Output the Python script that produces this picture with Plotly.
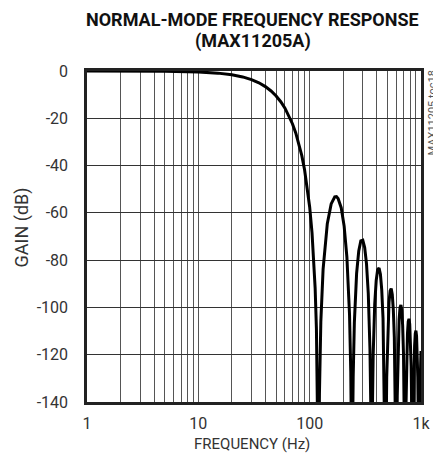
import plotly.graph_objects as go

# Frequency (Hz) and gain (dB)
freq = [1, 2, 5, 10, 15, 20, 25, 30, 35, 40, 45, 50, 55, 60, 65, 70, 75, 80, 85, 90, 95,
        100, 105, 110, 112, 115, 117, 118, 120,
        122.4, 126, 132, 144, 156, 168, 174, 180, 192, 204, 216, 228, 234, 237.6, 240,
        246, 252, 264, 276, 288, 300, 312, 324, 336, 348, 354, 360,
        366, 372, 384, 396, 408, 420, 432, 444, 456, 468, 474, 480,
        492, 504, 516, 528, 540, 552, 564, 576, 588, 600,
        612, 624, 636, 648, 660, 672, 684, 696, 708, 720,
        732, 744, 756, 768, 780, 792, 804, 816, 828, 840,
        852, 864, 876, 888, 900, 912, 924, 936, 948, 960,
        972, 984, 996, 1000]
gain = [0.0, 0.0, -0.1, -0.4, -0.9, -1.6, -2.5, -3.65, -5.0, -6.6, -8.45, -10.6, -13.0, -15.7, -18.8, -22.3, -26.2, -30.7, -35.8, -41.8, -48.9,
        -57.5, -68.5, -83.7, -91.9, -109.0, -127.3, -141.7, -180,
        -136.6, -105.9, -83.9, -64.6, -56.2, -53.2, -53.1, -53.9, -57.8, -65.6, -78.7, -102.9, -127.4, -159.7, -180,
        -129.2, -106.3, -85.6, -76.1, -71.9, -71.6, -74.7, -81.6, -94.0, -117.6, -141.8, -180,
        -143.0, -119.9, -98.6, -88.6, -84.0, -83.3, -86.0, -92.6, -104.6, -127.9, -152.0, -180,
        -129.6, -108.1, -97.8, -93.0, -92.0, -94.5, -100.9, -112.7, -135.8, -180,
        -137.2, -115.5, -105.1, -100.1, -99.0, -101.4, -107.6, -119.3, -142.2, -180,
        -143.4, -121.6, -111.1, -106.0, -104.8, -107.1, -113.2, -124.8, -147.7, -180,
        -148.7, -126.8, -116.2, -111.1, -109.8, -112.0, -118.1, -129.6, -152.4, -180,
        -153.2, -131.3, -120.7, -118.4]

x_tick_vals = [1, 2, 3, 4, 5, 6, 7, 8, 9, 10, 20, 30, 40, 50, 60, 70, 80, 90,
               100, 200, 300, 400, 500, 600, 700, 800, 900, 1000]
x_tick_text = ["1", "", "", "", "", "", "", "", "", "10", "", "", "", "", "", "", "", "",
               "100", "", "", "", "", "", "", "", "", "1k"]
y_tick_vals = [0, -20, -40, -60, -80, -100, -120, -140]
y_tick_text = ["0", "-20", "-40", "-60", "-80", "-100", "-120", "-140"]

FONT = "Roboto, Liberation Sans, Arial, sans-serif"

fig = go.Figure()
fig.add_trace(go.Scatter(x=freq, y=gain, mode="lines",
                         line=dict(color="#000000", width=3), showlegend=False,
                         hoverinfo="skip"))

# page body has an 8px margin, so the figure is 8px smaller and shifted
fig.update_layout(
    width=433, height=454,
    margin=dict(l=79, r=20, t=63, b=60),
    paper_bgcolor="white", plot_bgcolor="white",
    font=dict(family=FONT, size=16, color="#222222"),
    xaxis=dict(type="log", range=[0, 3], tickvals=x_tick_vals, ticktext=x_tick_text,
               showgrid=True, gridcolor="#555555", gridwidth=1,
               showline=True, linecolor="#222222", linewidth=2.5, mirror=True,
               ticks="", zeroline=False, tickfont=dict(size=16, color="#333333"),
               ticklabelstandoff=5),
    yaxis=dict(range=[-140, 0], tickvals=y_tick_vals, ticktext=y_tick_text,
               showgrid=True, gridcolor="#333333", gridwidth=1,
               showline=True, linecolor="#222222", linewidth=2.5, mirror=True,
               ticks="", zeroline=False, tickfont=dict(size=16, color="#333333"),
               ticklabelstandoff=13),
    annotations=[
        dict(text="<b>NORMAL-MODE FREQUENCY RESPONSE</b>", xref="paper", yref="paper",
             x=0.497, y=1.157, xanchor="center", yanchor="middle", showarrow=False,
             font=dict(family=FONT, size=18, color="#111111")),
        dict(text="<b>(MAX11205A)</b>", xref="paper", yref="paper",
             x=0.497, y=1.09, xanchor="center", yanchor="middle", showarrow=False,
             font=dict(family=FONT, size=18, color="#111111")),
        dict(text="GAIN (dB)", xref="paper", yref="paper", x=-0.195, y=0.527,
             xanchor="center", yanchor="middle", textangle=-90, showarrow=False,
             font=dict(family=FONT, size=18, color="#333333")),
        dict(text="FREQUENCY (Hz)", xref="paper", yref="paper", x=0.494, y=-0.127,
             xanchor="center", yanchor="middle", showarrow=False,
             font=dict(family=FONT, size=15, color="#333333")),
        dict(text="MAX11205 toc18", xref="paper", yref="paper", x=1.033, y=0.872,
             xanchor="center", yanchor="middle", textangle=-90, showarrow=False,
             font=dict(family=FONT, size=11, color="#555555")),
    ],
)

fig.write_html("out.html")
